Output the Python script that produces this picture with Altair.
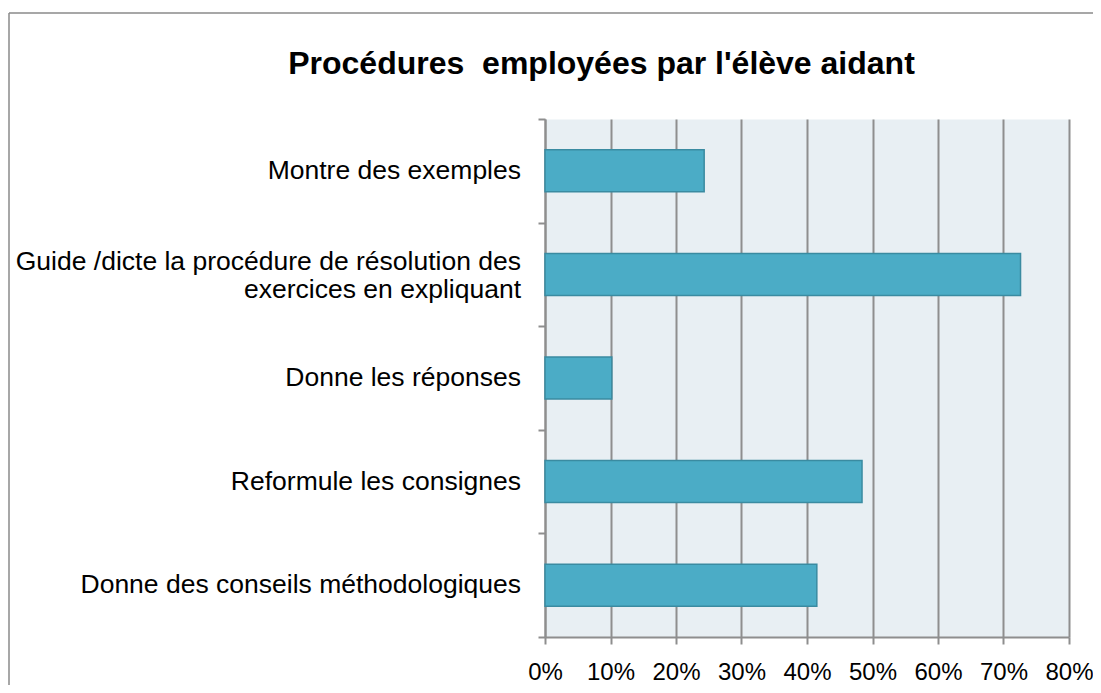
import altair as alt
import pandas as pd

categories = [
    "Montre des exemples",
    "Guide /dicte la procédure de résolution des|exercices en expliquant",
    "Donne les réponses",
    "Reformule les consignes",
    "Donne des conseils méthodologiques",
]
values = [0.243, 0.726, 0.102, 0.484, 0.415]
tick_values = [0, 0.1, 0.2, 0.3, 0.4, 0.5, 0.6, 0.7, 0.8]
title_text = "Procédures\u00a0 employées par l'élève aidant"

df = pd.DataFrame({"cat": categories, "value": values})
one = pd.DataFrame({"k": [0]})

FONT = "Liberation Sans"
GRAY = "#8E8E8E"

y_enc = alt.Y(
    "cat:N", sort=categories,
    scale=alt.Scale(paddingInner=0, paddingOuter=0),
    axis=alt.Axis(
        title=None, tickBand="extent", grid=False, labels=False,
        domainColor=GRAY, domainWidth=2,
        tickColor=GRAY, tickWidth=2, tickSize=7,
    ),
)

bars = alt.Chart(df).mark_bar(
    size=42, fill="#4BACC6", stroke="#3A8BA1", strokeWidth=1.5
).encode(
    x=alt.X(
        "value:Q",
        scale=alt.Scale(domain=[0, 0.8], nice=False, zero=True),
        axis=alt.Axis(
            values=tick_values, format=".0%", title=None,
            grid=True, gridColor=GRAY, gridWidth=2,
            domainColor=GRAY, domainWidth=2,
            tickColor=GRAY, tickWidth=2, tickSize=7,
            labelFont=FONT, labelFontSize=24, labelColor="#000000",
            labelPadding=16, labelFlush=False,
        ),
    ),
    y=y_enc,
)

labels_single = alt.Chart(df).transform_filter(
    "indexof(datum.cat, '|') < 0"
).mark_text(
    font=FONT, fontSize=26.5, color="#000000", align="right", baseline="middle"
).encode(
    y=alt.Y("cat:N", sort=categories), x=alt.value(-24), text="cat:N"
)

labels_multi = alt.Chart(df).transform_filter(
    "indexof(datum.cat, '|') >= 0"
).mark_text(
    font=FONT, fontSize=26.5, color="#000000", align="right", baseline="middle",
    lineBreak="|", lineHeight=28, dy=-12,
).encode(
    y=alt.Y("cat:N", sort=categories), x=alt.value(-24), text="cat:N"
)

border_left = alt.Chart(one).mark_rule(color="#8A8A8A", strokeWidth=1.5).encode(
    x=alt.value(-536), y=alt.value(-106), y2=alt.value(620)
)
border_top = alt.Chart(one).mark_rule(color="#8A8A8A", strokeWidth=1.5).encode(
    x=alt.value(-536), x2=alt.value(600), y=alt.value(-106)
)

title = alt.Chart(one).mark_text(
    font=FONT, fontSize=32, fontWeight="bold", color="#000000",
    align="center", baseline="alphabetic",
).encode(
    x=alt.value(56.5), y=alt.value(-45), text=alt.value(title_text)
)

chart = alt.layer(border_left, border_top, title, bars, labels_single, labels_multi).properties(
    width=524, height=518,
    autosize=alt.AutoSizeParams(type="none"),
    padding={"left": 537, "top": 111, "right": 24, "bottom": 48},
    background="#FFFFFF",
).configure_view(
    fill="#E8EFF3", stroke="transparent"
)

chart.save("out.html", embed_options={"renderer": "svg", "actions": False})
